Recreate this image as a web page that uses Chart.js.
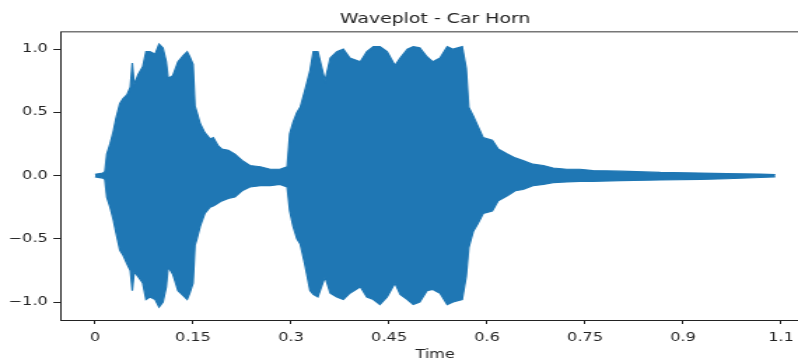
<!DOCTYPE html>
<html>
<head>
<meta charset="utf-8">
<script src="https://cdn.jsdelivr.net/npm/chart.js@4.4.1/dist/chart.umd.min.js"></script>
<style>
  html, body { margin: 0; padding: 0; background: #fff; overflow: hidden; }
  #wrap { width: 580px; height: 362px; transform: scaleX(1.4); transform-origin: 0 0; }
</style>
</head>
<body>
<div id="wrap"><canvas id="waveChart"></canvas></div>
<script>
// envelope of the waveform (seconds / amplitude)
const times = [0.000, 0.012, 0.015, 0.018, 0.023, 0.028, 0.032, 0.038, 0.043, 0.049,
  0.054, 0.057, 0.060, 0.066, 0.073, 0.078, 0.084, 0.092, 0.098, 0.104,
  0.109, 0.112, 0.119, 0.127, 0.135, 0.141, 0.145, 0.150, 0.153, 0.156,
  0.161, 0.168, 0.176, 0.181, 0.188, 0.194, 0.204, 0.214, 0.225, 0.237,
  0.253, 0.268, 0.283, 0.294, 0.298, 0.303, 0.309, 0.314, 0.321, 0.329,
  0.334, 0.341, 0.352, 0.360, 0.370, 0.380, 0.390, 0.406, 0.416, 0.426,
  0.436, 0.447, 0.459, 0.467, 0.478, 0.487, 0.497, 0.508, 0.517, 0.528,
  0.539, 0.548, 0.562, 0.568, 0.572, 0.579, 0.586, 0.594, 0.608, 0.617,
  0.631, 0.643, 0.655, 0.670, 0.686, 0.701, 0.722, 0.742, 0.762, 0.804,
  0.865, 0.926, 0.967, 1.018, 1.041]
const upper = [0.01, 0.02, 0.03, 0.17, 0.25, 0.35, 0.45, 0.57, 0.61, 0.64,
  0.70, 0.89, 0.72, 0.80, 0.86, 0.98, 0.98, 0.96, 1.04, 1.01,
  0.90, 0.77, 0.79, 0.90, 0.95, 0.98, 0.94, 0.88, 0.55, 0.50,
  0.41, 0.34, 0.29, 0.30, 0.24, 0.21, 0.20, 0.17, 0.12, 0.08,
  0.07, 0.05, 0.05, 0.07, 0.33, 0.42, 0.50, 0.54, 0.67, 0.83,
  0.98, 0.98, 0.75, 0.93, 0.98, 1.00, 0.93, 0.90, 0.98, 1.02,
  1.02, 0.98, 0.87, 0.93, 1.00, 1.02, 1.01, 0.94, 0.90, 0.93,
  1.02, 1.00, 1.02, 0.85, 0.54, 0.47, 0.39, 0.30, 0.28, 0.21,
  0.17, 0.14, 0.12, 0.09, 0.08, 0.06, 0.05, 0.05, 0.04, 0.035,
  0.025, 0.02, 0.015, 0.012, 0.008]
const lower = [-0.01, -0.02, -0.03, -0.17, -0.25, -0.35, -0.45, -0.59, -0.63, -0.70,
  -0.75, -0.91, -0.76, -0.80, -0.85, -0.98, -0.96, -0.98, -1.04, -1.00,
  -0.88, -0.72, -0.78, -0.91, -0.95, -0.98, -0.93, -0.85, -0.55, -0.50,
  -0.40, -0.30, -0.25, -0.24, -0.22, -0.20, -0.18, -0.17, -0.12, -0.09,
  -0.08, -0.08, -0.07, -0.09, -0.28, -0.40, -0.50, -0.54, -0.70, -0.91,
  -0.94, -0.96, -0.80, -0.93, -0.96, -0.98, -0.93, -0.88, -0.96, -0.98,
  -1.02, -0.96, -0.85, -0.94, -0.98, -1.02, -1.00, -0.91, -0.90, -0.93,
  -1.02, -1.00, -0.98, -0.80, -0.57, -0.44, -0.38, -0.30, -0.28, -0.20,
  -0.16, -0.12, -0.11, -0.08, -0.07, -0.055, -0.05, -0.045, -0.045, -0.04,
  -0.035, -0.03, -0.025, -0.015, -0.01]

const xTicks = [0, 0.15, 0.3, 0.45, 0.6, 0.75, 0.9, 1.05]
const xTickLabels = ['0', '0.15', '0.3', '0.45', '0.6', '0.75', '0.9', '1.1']
const yTicks = [-1, -0.5, 0, 0.5, 1]
const yTickLabels = ['\u22121.0', '\u22120.5', '0.0', '0.5', '1.0']

const blue = '#1f77b4'
const font = { family: 'DejaVu Sans', size: 11.5, lineHeight: 1.2 }
const xMin = -0.052, xMax = 1.093

new Chart(document.getElementById('waveChart'), {
  type: 'line',
  data: {
    datasets: [
      {
        data: times.map((t, i) => ({ x: t, y: upper[i] })),
        borderColor: blue, backgroundColor: blue, borderWidth: 1.2,
        pointRadius: 0, tension: 0, fill: '+1'
      },
      {
        data: times.map((t, i) => ({ x: t, y: lower[i] })),
        borderColor: blue, backgroundColor: blue, borderWidth: 1.2,
        pointRadius: 0, tension: 0, fill: false
      }
    ]
  },
  options: {
    responsive: true,
    maintainAspectRatio: false,
    animation: false,
    layout: { padding: { left: 0, right: 2, top: 0, bottom: 0 } },
    plugins: {
      legend: { display: false },
      tooltip: { enabled: false },
      title: {
        display: true,
        text: 'Waveplot - Car Horn',
        fullSize: false,
        color: '#222',
        font: { family: 'DejaVu Sans', size: 13.5, weight: 'normal' },
        padding: { top: 11, bottom: 5 }
      }
    },
    scales: {
      x: {
        type: 'linear', min: xMin, max: xMax,
        afterBuildTicks: s => { s.ticks = xTicks.map(v => ({ value: v })) },
        afterFit: s => { s.height = 42 },
        ticks: {
          color: '#222', font: font, padding: 7, maxRotation: 0,
          callback: (v, i) => xTickLabels[i]
        },
        grid: { drawOnChartArea: false, tickLength: 4, tickColor: '#222' },
        border: { color: '#222', width: 1 },
        title: { display: true, text: 'Time', color: '#222', font: font, padding: { top: 1.4, bottom: 0 } }
      },
      x2: {
        type: 'linear', position: 'top', min: xMin, max: xMax,
        ticks: { display: false },
        grid: { drawOnChartArea: false, drawTicks: false },
        border: { color: '#777', width: 1.5 }
      },
      y: {
        min: -1.142, max: 1.134,
        afterBuildTicks: s => { s.ticks = yTicks.map(v => ({ value: v })) },
        afterFit: s => { s.width = 43.6 },
        ticks: {
          color: '#222', font: font, padding: 4,
          callback: (v, i) => yTickLabels[i]
        },
        grid: { drawOnChartArea: false, tickLength: 5.5, tickColor: '#222' },
        border: { color: '#222', width: 1 }
      }
    }
  }
})
</script>
</body>
</html>
